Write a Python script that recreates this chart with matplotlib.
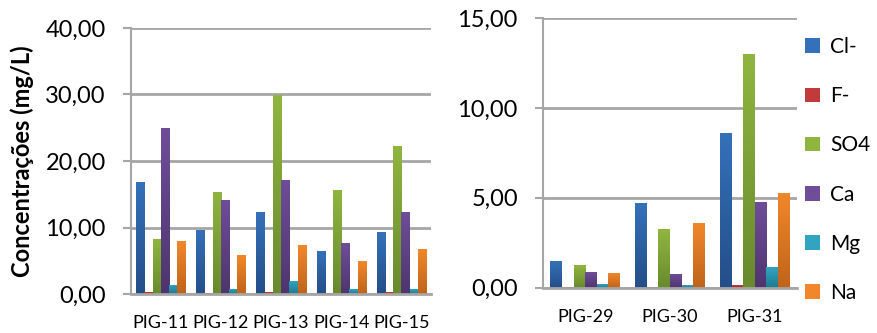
import matplotlib.pyplot as plt
import numpy as np
from matplotlib.ticker import FuncFormatter
from matplotlib.patches import Patch
from matplotlib.colors import to_rgb

plt.rcParams['font.family'] = ['Lato', 'DejaVu Sans']

ions = ["Cl-", "F-", "SO4", "Ca", "Mg", "Na"]
# (top colour, bottom colour) of each bar's shading
tops = ["#3471BA", "#C23B3B", "#90B53F", "#6F4D99", "#31A4C1", "#F1872A"]
bottoms = ["#244E88", "#962828", "#698A2D", "#4E356E", "#1F7A91", "#BF641A"]

# left panel
wells_a = ["PIG-11", "PIG-12", "PIG-13", "PIG-14", "PIG-15"]
cl_a = [16.8, 9.7, 12.4, 6.5, 9.4]
f_a = [0.3, 0.1, 0.3, 0.1, 0.3]
so4_a = [8.2, 15.4, 29.9, 15.7, 22.2]
ca_a = [24.9, 14.2, 17.2, 7.6, 12.3]
mg_a = [1.4, 0.8, 2.0, 0.7, 0.7]
na_a = [7.9, 5.8, 7.3, 4.9, 6.7]

# right panel
wells_b = ["PIG-29", "PIG-30", "PIG-31"]
cl_b = [1.49, 4.72, 8.6]
f_b = [0.05, 0.05, 0.15]
so4_b = [1.26, 3.27, 13.0]
ca_b = [0.87, 0.76, 4.77]
mg_b = [0.2, 0.15, 1.15]
na_b = [0.82, 3.6, 5.27]

fmt = FuncFormatter(lambda v, p: f"{v:.2f}".replace(".", ","))
grid_c = "#A6A6A6"


def shade(ax, rect, top, bottom):
    # vertical gradient clipped to the bar
    x, y = rect.get_x(), rect.get_y()
    w, h = rect.get_width(), rect.get_height()
    t = np.linspace(1, 0, 64)[:, None, None]
    img = t * np.array(to_rgb(top)) + (1 - t) * np.array(to_rgb(bottom))
    im = ax.imshow(img, extent=(x, x + w, y, y + h), aspect="auto",
                   origin="upper", zorder=3, interpolation="bilinear")
    im.set_clip_path(rect)


def draw(ax, wells, series, ymax, step):
    x = np.arange(len(wells))
    w = 0.82 / 6
    for i, vals in enumerate(series):
        bars = ax.bar(x - 0.41 + w * (i + 0.5), vals, width=w,
                      color=tops[i], zorder=3, linewidth=0)
        for r in bars:
            shade(ax, r, tops[i], bottoms[i])
    ax.set_xlim(-0.5, len(wells) - 0.5)
    ax.set_ylim(0, ymax)
    ax.set_yticks(np.arange(0, ymax + 0.01, step))
    ax.yaxis.set_major_formatter(fmt)
    ax.set_xticks(x)
    ax.set_xticklabels(wells, fontsize=13)
    ax.tick_params(axis="x", length=0, pad=15)
    ax.tick_params(axis="y", length=6, width=1.5, color=grid_c,
                   labelsize=17, pad=12)
    ax.grid(axis="y", color=grid_c, linewidth=2, zorder=0)
    for s in ["top", "right"]:
        ax.spines[s].set_visible(False)
    ax.spines["left"].set_color(grid_c)
    ax.spines["left"].set_linewidth(1.5)
    ax.spines["bottom"].set_color(grid_c)
    ax.spines["bottom"].set_linewidth(2)
    ax.spines["bottom"].set_zorder(4)


fig = plt.figure(figsize=(8.77, 3.33), dpi=100)
ax1 = fig.add_axes([0.149, 0.117, 0.343, 0.799])
ax2 = fig.add_axes([0.619, 0.136, 0.290, 0.810])

draw(ax1, wells_a, [cl_a, f_a, so4_a, ca_a, mg_a, na_a], 40, 10)
draw(ax2, wells_b, [cl_b, f_b, so4_b, ca_b, mg_b, na_b], 15, 5)

ax1.set_ylabel("Concentrações (mg/L)", fontsize=17, fontweight="bold")
ax1.yaxis.set_label_coords(-0.322, 0.5)

handles = [Patch(facecolor=t) for t in tops]
fig.legend(handles, ions, loc="upper left", bbox_to_anchor=(0.897, 0.945),
           frameon=False, fontsize=15, handlelength=0.7, handleheight=0.7,
           labelspacing=1.40, handletextpad=0.5)

fig.savefig("out.png", dpi=100)
